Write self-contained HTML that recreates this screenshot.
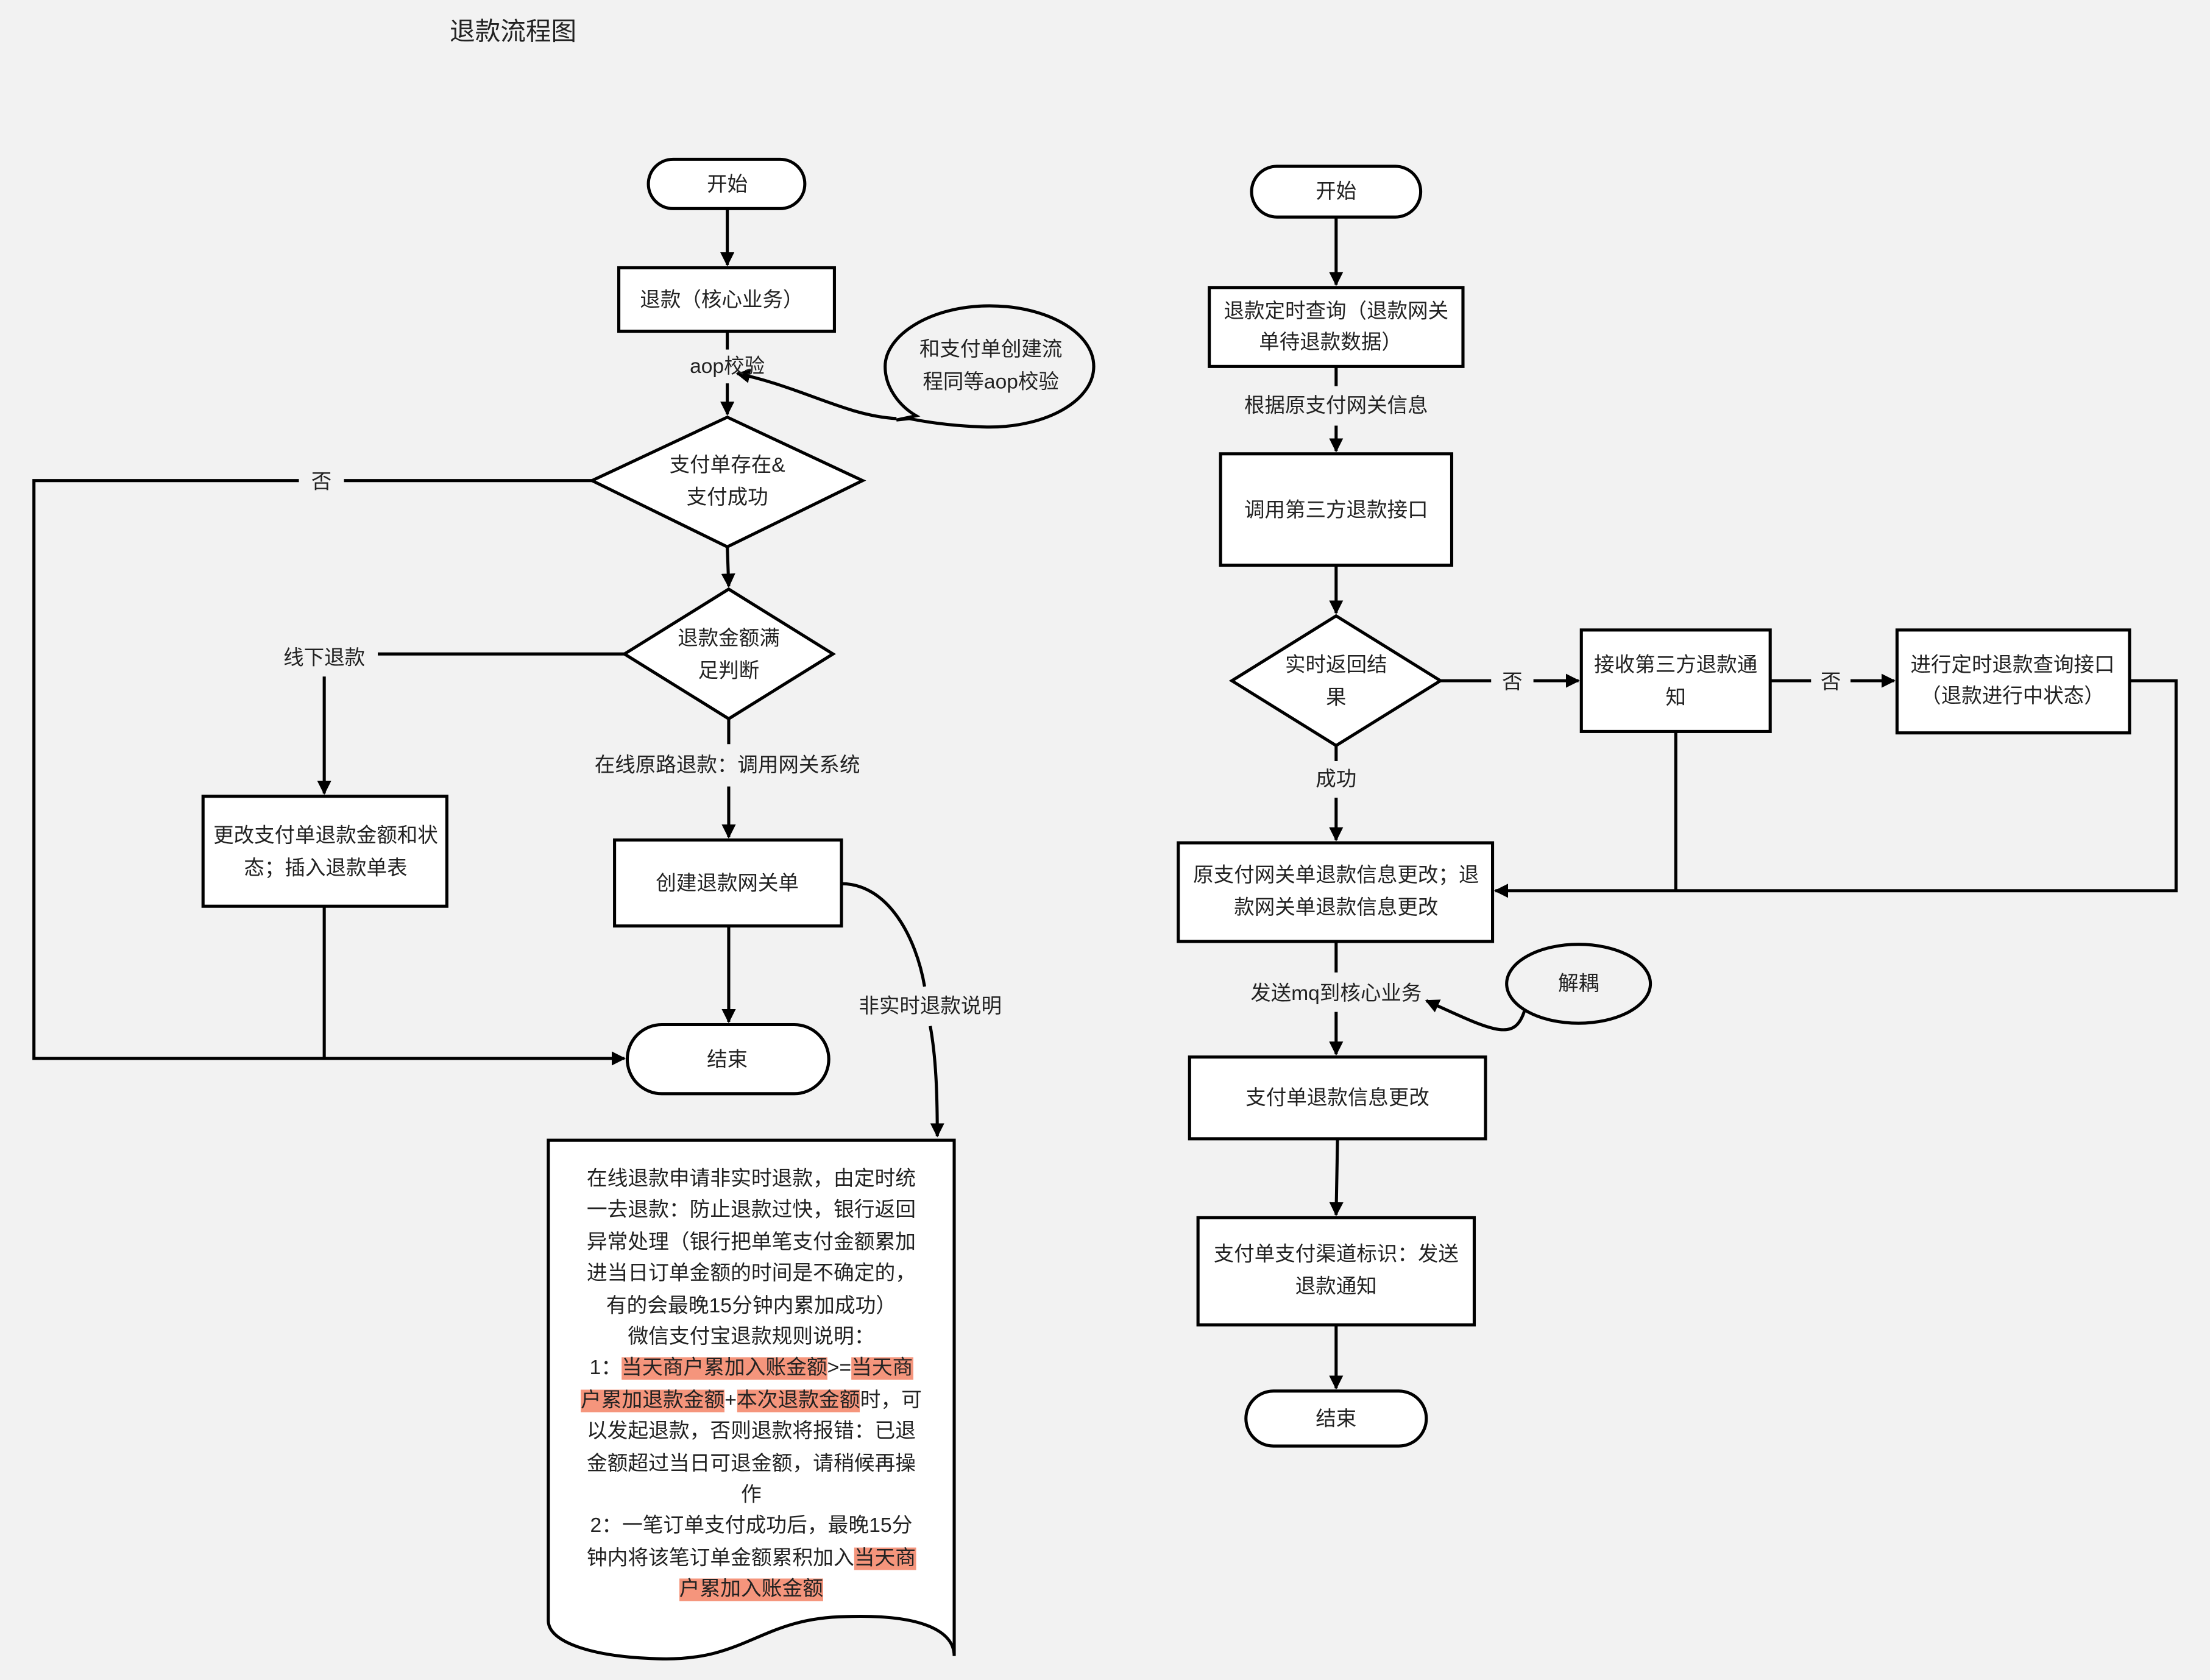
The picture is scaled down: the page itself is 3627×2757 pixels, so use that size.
<!DOCTYPE html>
<html><head><meta charset="utf-8"><style>
html,body{margin:0;padding:0;background:#f2f2f2;}
svg{display:block;}
text{font-family:"Liberation Sans","Noto Sans CJK SC",sans-serif;font-size:14.5px;fill:#222;text-anchor:middle;dominant-baseline:central;}
.doc{font-family:"Liberation Sans","Noto Sans CJK SC",sans-serif;font-size:14.6px;line-height:22.4px;color:#222;text-align:center;}
.hl{background:#f5957c;}
</style></head><body>
<svg width="3627" height="2757" viewBox="0 0 1568 1192" xmlns="http://www.w3.org/2000/svg">
<defs><marker id="a" markerWidth="10" markerHeight="10" refX="9" refY="5" orient="auto" markerUnits="userSpaceOnUse"><path d="M0,0 L10,5 L0,10 z" fill="#000"/></marker></defs>
<rect width="1568" height="1192" fill="#f2f2f2"/>
<text x="364" y="22" style="font-size:18px">退款流程图</text>
<g stroke="#000" stroke-width="2.2" fill="#fff">
<!-- left -->
<rect x="460" y="113" width="111" height="35" rx="17.5"/>
<rect x="439" y="190" width="153" height="45"/>
<polygon points="516,296 612,341 516,388 420,341"/>
<polygon points="517,418 591,464 517,510 443,464"/>
<rect x="144" y="565" width="173" height="78"/>
<rect x="436" y="596" width="161" height="61"/>
<rect x="445" y="727" width="143" height="49" rx="24.5"/>
<path d="M389,809 H677 V1175 C677,1160 660,1145 600,1147 C540,1148 530,1178 470,1177 C420,1176 389,1165 389,1150 Z"/>
<!-- right -->
<rect x="888" y="118" width="120" height="36" rx="18"/>
<rect x="858" y="204" width="180" height="56"/>
<rect x="866" y="322" width="164" height="79"/>
<polygon points="948,437 1022,483 948,529 874,483"/>
<rect x="1122" y="447" width="134" height="72"/>
<rect x="1346" y="447" width="165" height="73"/>
<rect x="836" y="598" width="223" height="70"/>
<rect x="844" y="750" width="210" height="58"/>
<rect x="850" y="864" width="196" height="76"/>
<rect x="884" y="987" width="128" height="39" rx="19.5"/>
</g>
<g stroke="#000" stroke-width="2.2" fill="none">
<path d="M702,217 C660,217 628,238 628,260 C628,275 638,288 650,295 L636,298 L645,297 C675,303 702,303 702,303 C743,303 776,284 776,260 C776,236 743,217 702,217 Z" fill="none"/>
<ellipse cx="1120" cy="698" rx="51" ry="28"/>
<line x1="516" y1="148" x2="516" y2="188" marker-end="url(#a)"/>
<line x1="516" y1="235" x2="516" y2="248"/>
<line x1="516" y1="272" x2="516" y2="294" marker-end="url(#a)"/>
<path d="M636,297 C600,295 570,275 523,265" marker-end="url(#a)"/>
<line x1="420" y1="341" x2="244" y2="341"/>
<polyline points="212,341 24,341 24,751 443,751" marker-end="url(#a)"/>
<line x1="516" y1="388" x2="517" y2="416" marker-end="url(#a)"/>
<line x1="443" y1="464" x2="268" y2="464"/>
<line x1="230" y1="480" x2="230" y2="563" marker-end="url(#a)"/>
<line x1="230" y1="643" x2="230" y2="751"/>
<line x1="517" y1="510" x2="517" y2="528"/>
<line x1="517" y1="558" x2="517" y2="594" marker-end="url(#a)"/>
<line x1="517" y1="657" x2="517" y2="725" marker-end="url(#a)"/>
<path d="M597,627 C630,627 650,665 656,700"/>
<path d="M660,728 C664,750 665,775 665,806" marker-end="url(#a)"/>
<line x1="948" y1="154" x2="948" y2="202" marker-end="url(#a)"/>
<line x1="948" y1="260" x2="948" y2="274"/>
<line x1="948" y1="302" x2="948" y2="320" marker-end="url(#a)"/>
<line x1="948" y1="401" x2="948" y2="435" marker-end="url(#a)"/>
<line x1="1022" y1="483" x2="1058" y2="483"/>
<line x1="1088" y1="483" x2="1120" y2="483" marker-end="url(#a)"/>
<line x1="1256" y1="483" x2="1285" y2="483"/>
<line x1="1313" y1="483" x2="1344" y2="483" marker-end="url(#a)"/>
<polyline points="1511,483 1544,483 1544,632 1061,632" marker-end="url(#a)"/>
<line x1="1189" y1="519" x2="1189" y2="632"/>
<line x1="948" y1="529" x2="948" y2="540"/>
<line x1="948" y1="566" x2="948" y2="596" marker-end="url(#a)"/>
<line x1="948" y1="668" x2="948" y2="690"/>
<line x1="948" y1="718" x2="948" y2="748" marker-end="url(#a)"/>
<path d="M1082,716 C1075,740 1060,732 1012,710" marker-end="url(#a)"/>
<line x1="949" y1="808" x2="948" y2="862" marker-end="url(#a)"/>
<line x1="948" y1="940" x2="948" y2="985" marker-end="url(#a)"/>
</g>
<text x="516" y="131">开始</text>
<text x="512" y="213">退款（核心业务）</text>
<text x="516" y="260">aop校验</text>
<text x="703" y="248">和支付单创建流</text>
<text x="703" y="271">程同等aop校验</text>
<text x="516" y="330">支付单存在&amp;</text>
<text x="516" y="353">支付成功</text>
<text x="228" y="342">否</text>
<text x="517" y="453">退款金额满</text>
<text x="517" y="476">足判断</text>
<text x="230" y="467">线下退款</text>
<text x="231" y="593">更改支付单退款金额和状</text>
<text x="231" y="616">态；插入退款单表</text>
<text x="516" y="543">在线原路退款：调用网关系统</text>
<text x="516" y="627">创建退款网关单</text>
<text x="516" y="752">结束</text>
<text x="660" y="714">非实时退款说明</text>
<text x="948" y="136">开始</text>
<text x="948" y="221">退款定时查询（退款网关</text>
<text x="944" y="243">单待退款数据）</text>
<text x="948" y="288">根据原支付网关信息</text>
<text x="948" y="362">调用第三方退款接口</text>
<text x="948" y="472">实时返回结</text>
<text x="948" y="495">果</text>
<text x="1073" y="484">否</text>
<text x="1189" y="472">接收第三方退款通</text>
<text x="1189" y="495">知</text>
<text x="1299" y="484">否</text>
<text x="1428" y="472">进行定时退款查询接口</text>
<text x="1428" y="494">（退款进行中状态）</text>
<text x="948" y="553">成功</text>
<text x="948" y="621">原支付网关单退款信息更改；退</text>
<text x="948" y="644">款网关单退款信息更改</text>
<text x="948" y="705">发送mq到核心业务</text>
<text x="1120" y="698">解耦</text>
<text x="949" y="779">支付单退款信息更改</text>
<text x="948" y="890">支付单支付渠道标识：发送</text>
<text x="948" y="913">退款通知</text>
<text x="948" y="1007">结束</text>
<foreignObject x="398" y="826" width="270" height="320">
<div xmlns="http://www.w3.org/1999/xhtml" class="doc">在线退款申请非实时退款，由定时统<br/>一去退款：防止退款过快，银行返回<br/>异常处理（银行把单笔支付金额累加<br/>进当日订单金额的时间是不确定的，<br/>有的会最晚15分钟内累加成功）<br/>微信支付宝退款规则说明：<br/>1：<span class="hl">当天商户累加入账金额</span>&gt;=<span class="hl">当天商</span><br/><span class="hl">户累加退款金额</span>+<span class="hl">本次退款金额</span>时，可<br/>以发起退款，否则退款将报错：已退<br/>金额超过当日可退金额，请稍候再操<br/>作<br/>2：一笔订单支付成功后，最晚15分<br/>钟内将该笔订单金额累积加入<span class="hl">当天商</span><br/><span class="hl">户累加入账金额</span></div>
</foreignObject>
</svg>
</body></html>
